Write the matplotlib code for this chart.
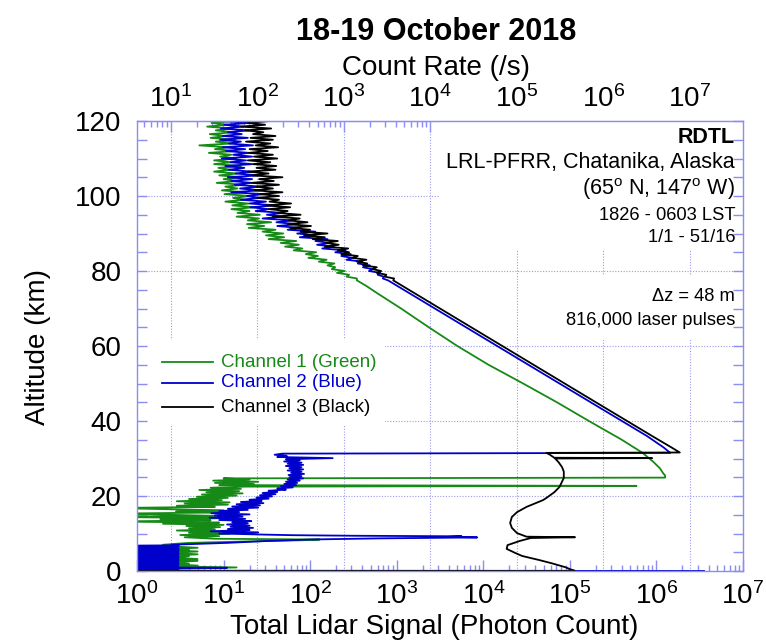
import numpy as np
import matplotlib
matplotlib.use("Agg")
import matplotlib.pyplot as plt
from matplotlib.patches import Rectangle
from matplotlib.lines import Line2D
from matplotlib.ticker import MultipleLocator, LogLocator, NullFormatter, FixedLocator

plt.rcParams['font.family'] = ['Liberation Sans', 'DejaVu Sans']
plt.rcParams['mathtext.fontset'] = 'custom'
plt.rcParams['mathtext.rm'] = 'Liberation Sans'
plt.rcParams['mathtext.it'] = 'Liberation Sans:italic'
plt.rcParams['mathtext.bf'] = 'Liberation Sans:bold'

# ---------------- data (altitude km, log10 photon count) ----------------
# Channel 3 (Black)
ch3_low = [(0.0, -1.0), (0.05, 5.06), (0.5, 5.00), (1.0, 4.95), (2.0, 4.80), (2.9, 4.65),
           (4.0, 4.45), (4.8, 4.37), (5.9, 4.27), (6.9, 4.28), (8.0, 4.42), (8.8, 4.55),
           (9.0, 5.06), (9.15, 4.50), (10.1, 4.39), (11.5, 4.33), (12.8, 4.31), (14.4, 4.33),
           (15.7, 4.39), (17.1, 4.50), (18.9, 4.69), (19.5, 4.73), (21.0, 4.82), (22.4, 4.88),
           (24.8, 4.93), (26.5, 4.93), (27.7, 4.91), (29.0, 4.87), (30.0, 4.83), (30.1, 5.95),
           (30.2, 4.82), (31.0, 4.77), (31.5, 4.73)]
ch3_mid = [(31.6, 6.27), (33, 6.17), (36, 5.95), (40, 5.66), (45, 5.30), (50, 4.94),
           (55, 4.58), (60, 4.22), (65, 3.86), (70, 3.50), (74, 3.21), (76, 3.07), (77.5, 2.96)]
ch3_noisy = [2.97, 2.86, 2.88, 2.77, 2.82, 2.72, 2.77, 2.61, 2.66, 2.54,
             2.65, 2.49, 2.55, 2.36, 2.45, 2.32, 2.44, 2.17, 2.33, 2.18,
             2.32, 2.03, 2.17, 1.93, 2.20, 1.89, 2.00, 1.77, 2.01, 1.75,
             1.97, 1.75, 1.88, 1.57, 1.89, 1.62, 1.74, 1.52, 1.77, 1.49,
             1.78, 1.53, 1.64, 1.39, 1.64, 1.42, 1.68, 1.36, 1.57, 1.38,
             1.64, 1.32, 1.58, 1.41, 1.68, 1.33, 1.52, 1.28, 1.60, 1.38,
             1.61, 1.34, 1.54, 1.28, 1.62, 1.35, 1.57, 1.29, 1.51, 1.30,
             1.63, 1.37, 1.54, 1.26, 1.57, 1.31, 1.60, 1.34, 1.46, 1.25,
             1.55, 1.20, 1.48, 1.28, 1.54]

# Channel 2 (Blue)
ch2_start = [(0.0, 6.55)]
ch2_block = [-0.5, 0.48, -0.5, 0.30, -0.5, 1.04, -0.5, 0.48, -0.5, 0.30,
             -0.5, 0.48, 0.0, 0.48, -0.5, 0.30, -0.5, 0.48, -0.5, 0.48,
             0.0, 0.30, -0.5, 0.48, -0.5, 0.48, -0.5, 0.30, -0.5, 0.48,
             0.0, 0.48, -0.5, 0.30, -0.5, 0.48, -0.5, 0.48, 0.0, 0.48,
             -0.5, 0.30, -0.5, 0.48, -0.5, 0.48, 0.40]          # from 0.10 km, every 0.15 km
ch2_ramp = [(7.5, 1.04), (8.0, 1.5), (8.4, 2.0), (8.7, 2.8), (8.95, 3.93), (9.1, 3.6),
            (9.25, 3.75), (9.4, 2.5), (9.55, 1.8)]
ch2_strat = [1.48, 0.95, 1.40, 0.85, 1.30, 1.05, 1.34, 1.08, 1.30, 1.04,
             1.28, 1.10, 1.32, 0.95, 1.25, 0.84, 1.22, 0.90, 1.30, 0.86,
             1.18, 0.95, 1.28, 1.05, 1.40, 1.10, 1.42, 1.15, 1.46, 1.20,
             1.44, 1.30, 1.52, 1.38, 1.56, 1.42, 1.60, 1.45, 1.62, 1.52,
             1.72, 1.62, 1.80, 1.66, 1.84, 1.70, 1.85, 1.72, 1.88, 1.74,
             1.92, 1.76, 1.90, 1.75, 1.93, 1.78, 1.90, 1.74, 1.92, 1.76,
             1.90, 1.72, 1.92, 1.74, 1.90, 1.70, 1.88, 1.72, 2.26, 1.62,
             1.73, 1.59, 1.68]                                  # from 9.7 km, every 0.3 km
ch2_mid = [(31.5, 6.16), (33, 6.08), (36, 5.89), (40, 5.60), (45, 5.24), (50, 4.88),
           (55, 4.52), (60, 4.16), (65, 3.80), (70, 3.44), (74, 3.15), (76, 3.01), (77.5, 2.90)]
ch2_noisy = [2.84, 2.85, 2.78, 2.81, 2.68, 2.72, 2.61, 2.69, 2.55, 2.60,
             2.42, 2.49, 2.36, 2.47, 2.29, 2.41, 2.14, 2.27, 2.08, 2.23,
             2.06, 2.20, 1.88, 2.06, 1.85, 2.06, 1.74, 1.87, 1.62, 1.85,
             1.61, 1.80, 1.45, 1.68, 1.50, 1.69, 1.37, 1.52, 1.31, 1.60,
             1.30, 1.49, 1.20, 1.42, 1.27, 1.46, 1.09, 1.42, 1.19, 1.43,
             1.13, 1.32, 1.09, 1.33, 1.05, 1.41, 1.14, 1.32, 1.06, 1.24,
             1.02, 1.33, 1.08, 1.26, 0.98, 1.33, 1.11, 1.29, 1.03, 1.25,
             0.99, 1.34, 1.06, 1.20, 0.96, 1.28, 0.99, 1.21, 1.05, 1.29,
             0.97, 1.23, 1.01, 1.30, 0.97]

# Channel 1 (Green)
ch1_start = [(0.0, -0.5), (0.6, 0.48), (0.95, 1.15), (1.2, 0.48)]
ch1_block = [0.70, 0.48, 0.60, 0.48, 0.48, 0.70, 0.48, 0.70, 0.48, 0.48,
             0.60, 0.48, 0.70, 0.48, 0.48, 0.70, 0.48, 0.60, 0.48, 0.70,
             0.48, 0.48]                                         # from 1.45 km, every 0.25 km
ch1_ramp = [(7.0, 0.30), (7.5, 0.60), (7.9, 1.30), (8.2, 1.90), (8.4, 2.11), (8.6, 0.90)]
ch1_strat = [0.55, 0.95, 0.50, 1.07, 0.60, 0.95, 0.46, 0.90, 0.60, 0.96,
             0.57, 1.00, 0.30, 0.95, -0.3, 0.85, 0.27, 1.04, -0.3, 0.90,
             0.35, -0.3, 0.95, 0.45, 1.00, 0.30, -0.3, 0.90, 0.46, 1.05,
             0.55, 1.07, 0.46, 0.98, 0.60, 1.05, 0.69, 1.15, 0.75, 1.22,
             0.80, 1.18, 0.72, 1.20, 0.85, 1.25]                 # from 9.0 km, every 0.3 km
ch1_mid = [(22.7, 5.77), (22.9, 0.95), (23.2, 1.35), (23.5, 0.90), (23.8, 1.40), (24.1, 0.88),
           (24.4, 1.30), (24.7, 1.00), (24.9, 6.10), (25.5, 6.10), (26.0, 6.08), (27.4, 6.04),
           (29.2, 5.96), (31.5, 5.84), (35, 5.60), (40, 5.22), (45, 4.85), (50, 4.46),
           (55, 4.06), (60, 3.70), (65, 3.37), (70, 3.05), (74, 2.78), (76, 2.65), (77.5, 2.54)]
ch1_noisy = [2.54, 2.42, 2.45, 2.31, 2.40, 2.25, 2.29, 2.20, 2.28, 2.10,
             2.19, 1.98, 2.09, 1.95, 2.07, 1.81, 1.91, 1.71, 1.87, 1.66,
             1.84, 1.52, 1.70, 1.49, 1.69, 1.45, 1.60, 1.29, 1.47, 1.27,
             1.55, 1.28, 1.41, 1.15, 1.42, 1.16, 1.30, 1.09, 1.36, 1.10,
             1.29, 1.02, 1.24, 1.11, 1.31, 1.01, 1.24, 0.98, 1.16, 1.02,
             1.23, 0.92, 1.16, 1.00, 1.20, 0.95, 1.16, 0.89, 1.08, 0.94,
             1.20, 0.89, 1.09, 0.89, 1.15, 0.96, 1.09, 0.83, 1.13, 0.90,
             1.04, 0.72, 1.09, 0.91, 1.14, 0.85, 1.02, 0.84, 1.12, 0.91,
             1.08, 0.81, 1.04, 0.86, 1.10]                       # from 78 km, every 0.5 km

COUNT_RATE_FACTOR = 4.1   # count rate (/s) per photon count
bottom_ticks = [1e0, 1e1, 1e2, 1e3, 1e4, 1e5, 1e6, 1e7]
top_ticks = [1e1, 1e2, 1e3, 1e4, 1e5, 1e6, 1e7]
legend_labels = ["Channel 1 (Green)", "Channel 2 (Blue)", "Channel 3 (Black)"]
info_lines = ["RDTL", "LRL-PFRR, Chatanika, Alaska", r"(65$^{\mathrm{o}}$ N, 147$^{\mathrm{o}}$ W)",
              "1826 - 0603 LST", "1/1 - 51/16"]
info2_lines = ["\u0394z = 48 m", "816,000 laser pulses"]


def pairs(p):
    a = np.array(p, dtype=float)
    return a[:, 0], a[:, 1]


def regular(start, step, vals):
    v = np.array(vals, dtype=float)
    return start + step * np.arange(len(v)), v


def build(parts):
    alts, lgs = [], []
    for a, l in parts:
        alts.append(a)
        lgs.append(l)
    return np.concatenate(alts), 10 ** np.concatenate(lgs)


alt3, sig3 = build([pairs(ch3_low), pairs(ch3_mid), regular(78.0, 0.5, ch3_noisy)])
alt2, sig2 = build([pairs(ch2_start), regular(0.10, 0.15, ch2_block), pairs(ch2_ramp),
                    regular(9.7, 0.3, ch2_strat), pairs(ch2_mid), regular(78.0, 0.5, ch2_noisy)])
alt1, sig1 = build([pairs(ch1_start), regular(1.45, 0.25, ch1_block), pairs(ch1_ramp),
                    regular(9.0, 0.3, ch1_strat), pairs(ch1_mid), regular(78.0, 0.5, ch1_noisy)])

GREEN = '#168a16'
BLUE = '#0000cc'
BLACK = '#000000'
FRAME = '#8c8cf5'
GRID = '#9a9af0'

W, H = 766, 642
fig = plt.figure(figsize=(W / 100, H / 100), dpi=100)
ax = fig.add_axes([137 / W, 1 - 571 / H, 606 / W, 450 / H])
ax.set_xscale('log')
ax.set_xlim(1, 1e7)
ax.set_ylim(0, 120)

# grid (dotted, at count-rate decades and every 20 km)
for t in top_ticks:
    ax.axvline(t / COUNT_RATE_FACTOR, color=GRID, ls=(0, (1, 1.5)), lw=0.8, zorder=1)
for yv in range(20, 120, 20):
    ax.axhline(yv, color=GRID, ls=(0, (1, 1.5)), lw=0.8, zorder=1)

# white boxes behind annotations
ax.add_patch(Rectangle((0.50, 0.713), 0.50, 0.287, transform=ax.transAxes, fc='white', ec='none', zorder=1.5))
ax.add_patch(Rectangle((0.70, 0.513), 0.30, 0.142, transform=ax.transAxes, fc='white', ec='none', zorder=1.5))
ax.add_patch(Rectangle((0.0, 0.324), 0.409, 0.189, transform=ax.transAxes, fc='white', ec='none', zorder=1.5))

ax.plot(sig1, alt1, color=GREEN, lw=1.3, zorder=2)
ax.plot(sig2, alt2, color=BLUE, lw=1.3, zorder=2.1)
ax.plot(sig3, alt3, color=BLACK, lw=1.3, zorder=2.2)

for sp in ax.spines.values():
    sp.set_color(FRAME)
    sp.set_linewidth(1.0)

ax.yaxis.set_major_locator(MultipleLocator(20))
ax.yaxis.set_minor_locator(MultipleLocator(5))
ax.tick_params(axis='y', which='both', direction='in', left=True, right=True, color=FRAME,
               labelsize=20, pad=11)
ax.tick_params(axis='y', which='major', length=7, width=1)
ax.tick_params(axis='y', which='minor', length=7, width=1)
ax.xaxis.set_major_locator(FixedLocator(bottom_ticks))
ax.xaxis.set_minor_locator(LogLocator(base=10, subs=np.arange(2, 10), numticks=12))
ax.xaxis.set_minor_formatter(NullFormatter())
ax.tick_params(axis='x', which='both', direction='in', bottom=True, top=False, color=FRAME,
               labelsize=20, pad=8)
ax.tick_params(axis='x', which='major', length=8, width=1)
ax.tick_params(axis='x', which='minor', length=4, width=1)

secax = ax.secondary_xaxis('top', functions=(lambda x: x * COUNT_RATE_FACTOR,
                                             lambda x: x / COUNT_RATE_FACTOR))
secax.xaxis.set_major_locator(FixedLocator(top_ticks))
secax.xaxis.set_minor_locator(LogLocator(base=10, subs=np.arange(2, 10), numticks=12))
secax.xaxis.set_minor_formatter(NullFormatter())
secax.tick_params(which='both', direction='in', color=FRAME, labelsize=20, pad=6)
secax.tick_params(which='major', length=8, width=1)
secax.tick_params(which='minor', length=4, width=1)
for sp in secax.spines.values():
    sp.set_color(FRAME)

# legend (manual)
rows_y = [0.464, 0.418, 0.364]
for lab, col, ry in zip(legend_labels, [GREEN, BLUE, BLACK], rows_y):
    ax.add_line(Line2D([0.041, 0.125], [ry, ry], transform=ax.transAxes, color=col, lw=1.3, zorder=3))
    ax.text(0.139, ry, lab, transform=ax.transAxes, color=col, fontsize=13.5, va='center',
            ha='left', zorder=3)

# annotations
info_y = [0.964, 0.907, 0.849, 0.791, 0.740]
info_fs = [15.5, 15.5, 15.5, 13.2, 13.2]
for i, (t, yy, fs) in enumerate(zip(info_lines, info_y, info_fs)):
    ax.text(0.987, yy, t, transform=ax.transAxes, ha='right', va='center', fontsize=fs,
            fontweight='bold' if i == 0 else 'normal', zorder=3)
for t, yy in zip(info2_lines, [0.609, 0.556]):
    ax.text(0.987, yy, t, transform=ax.transAxes, ha='right', va='center', fontsize=13.2, zorder=3)

fig.text(436 / W, 1 - 32 / H, "18-19 October 2018", ha='center', va='center', fontsize=22,
         fontweight='bold')
fig.text(436 / W, 1 - 68 / H, "Count Rate (/s)", ha='center', va='center', fontsize=20)
fig.text(434 / W, 1 - 627 / H, "Total Lidar Signal (Photon Count)", ha='center', va='center',
         fontsize=20)
fig.text(38 / W, 1 - 347 / H, "Altitude (km)", ha='center', va='center', rotation=90, fontsize=20)

fig.savefig("out.png", dpi=100)
